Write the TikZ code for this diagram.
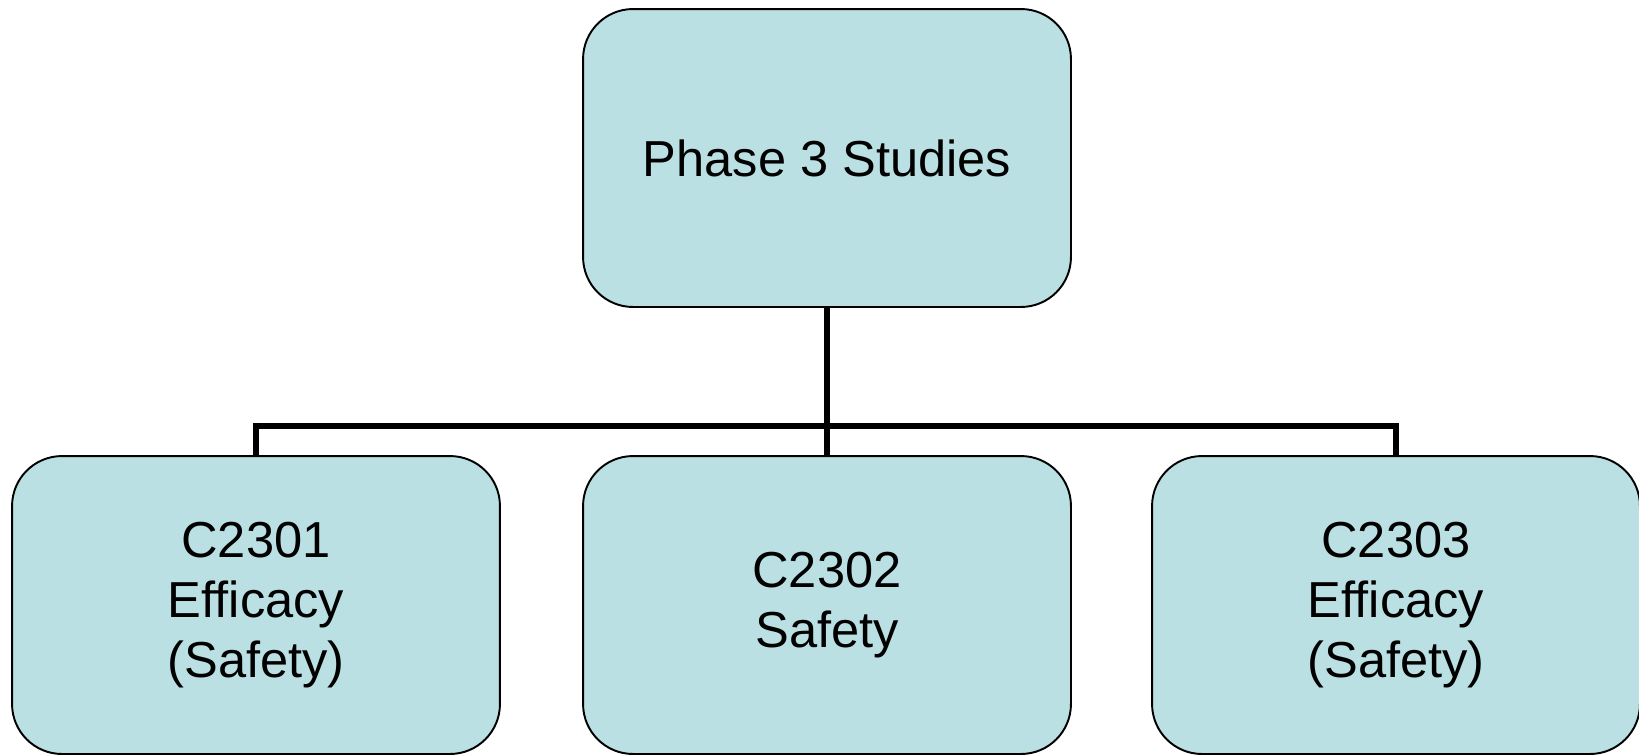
\documentclass[tikz,border=0pt]{standalone}
\usepackage{fontspec}
\setmainfont{Liberation Sans}
\usepackage{tikz}
\usetikzlibrary{positioning}
\definecolor{studyfill}{RGB}{186,224,227}
\tikzset{
  study/.style={draw, line width=1.1pt, fill=studyfill, rounded corners=1cm,
    minimum width=9.76cm, minimum height=5.96cm, align=center,
    font=\fontsize{28.8}{34}\selectfont},
  link/.style={line width=3.4pt}
}

\begin{document}
\begin{tikzpicture} [x=0.02cm, y=-0.02cm]
  \useasboundingbox (0,0) rectangle (1639,755); % page
  % top
  \node[study] (phase) at (827,158) {Phase 3 Studies};
  % studies
  \node[study] (c1) at (256,605) {C2301\\Efficacy\\(Safety)};
  \node[study] (c2) at (827,605) {C2302\\Safety};
  \node[study] (c3) at (1396,605) {C2303\\Efficacy\\(Safety)};
  \coordinate (J) at (827,426); % branch point
  \draw[link] (phase.south) -- (c2.north);
  \draw[link] (c1.north) |- (J) -| (c3.north);
\end{tikzpicture}
\end{document}
